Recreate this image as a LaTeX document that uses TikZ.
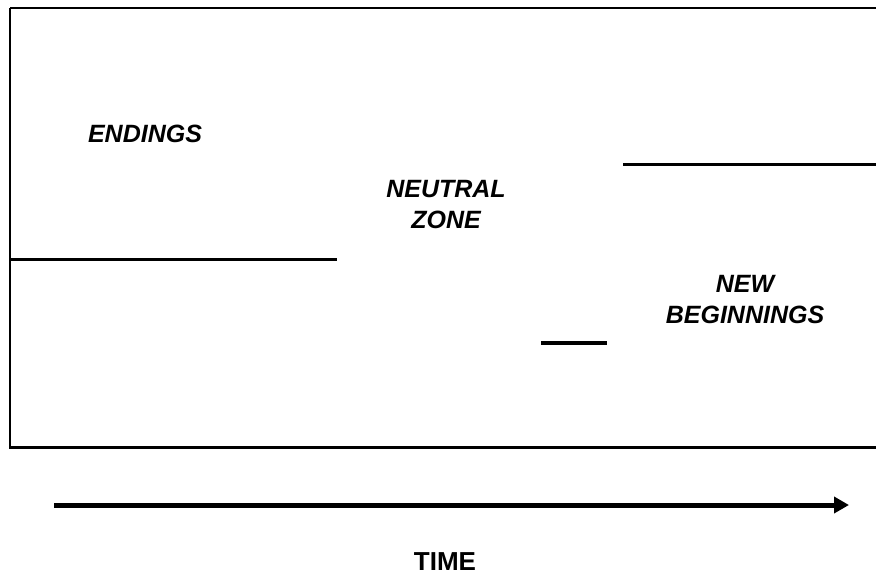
\documentclass[tikz,border=0pt]{standalone}
\usepackage{fontspec}
\setmainfont{Liberation Sans}
\usetikzlibrary{arrows.meta}
\begin{document}
\begin{tikzpicture}[x=1pt,y=-1pt,
  lbl/.style={font=\fontsize{25}{31}\selectfont\bfseries\itshape, align=center, anchor=base, inner sep=0pt},
  timelbl/.style={font=\fontsize{26}{31}\selectfont\bfseries, anchor=base, inner sep=0pt},
  frame/.style={line width=2.5pt},
  level/.style={line width=3pt},
  timearrow/.style={line width=5pt, -{Triangle[length=15pt,width=16pt]}}]
\useasboundingbox (0,0) rectangle (876,574);
\draw[frame] (10,8) -- (10,447.5) -- (880,447.5);
\draw[frame] (10,8) -- (880,8);
\coordinate (e1) at (10,259);
\coordinate (e2) at (337,259);
\coordinate (n1) at (541,343);
\coordinate (n2) at (607,343);
\coordinate (b1) at (623,164);
\coordinate (b2) at (880,164);
\draw[level] (e1) -- (e2);
\draw[level, line width=3.5pt] (n1) -- (n2);
\draw[level] (b1) -- (b2);
\node[lbl] (endings) at (145,142) {ENDINGS};
\node[lbl] (neutral) at (446,228) {NEUTRAL\\ZONE};
\node[lbl] (newbeg) at (745,323) {NEW\\BEGINNINGS};
\coordinate (t1) at (54,505);
\coordinate (t2) at (849,505);
\draw[timearrow] (t1) -- (t2);
\node[timelbl] (time) at (445,570) {TIME};
\end{tikzpicture}
\end{document}
